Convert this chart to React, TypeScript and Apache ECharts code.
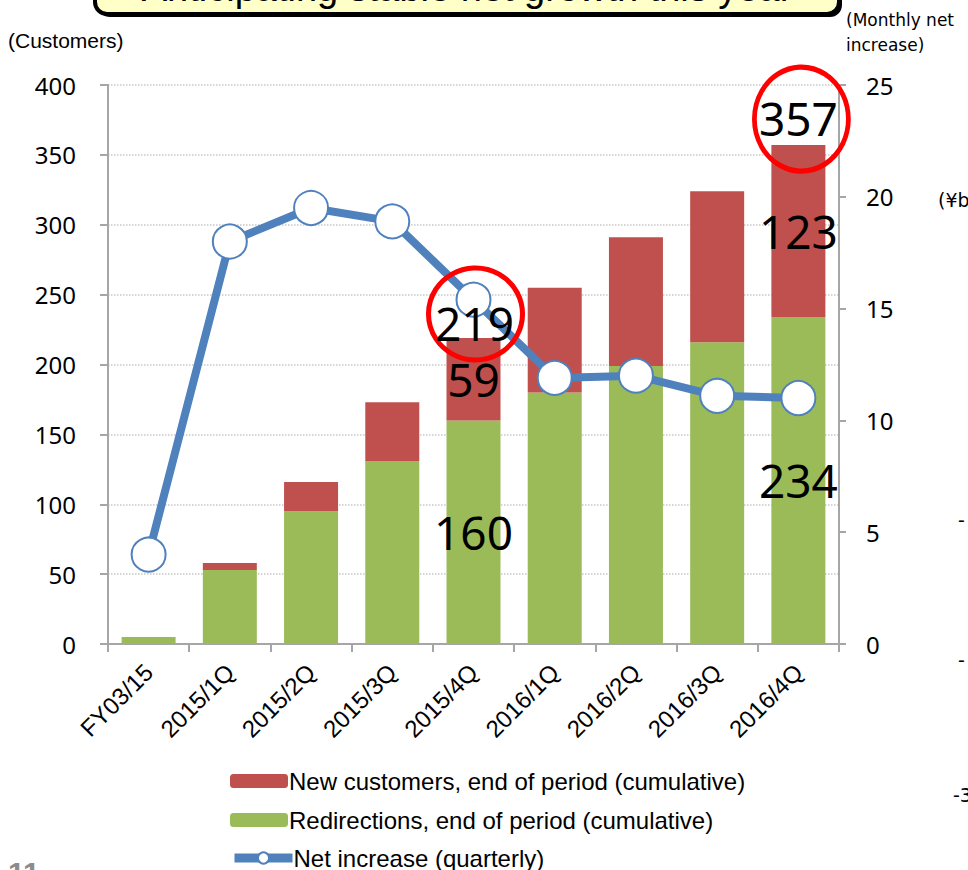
import React, { useEffect, useRef } from "react";
import * as echarts from "echarts";

const categories = ["FY03/15", "2015/1Q", "2015/2Q", "2015/3Q", "2015/4Q", "2016/1Q", "2016/2Q", "2016/3Q", "2016/4Q"];
const redirections = [5, 53, 95, 131, 160, 180, 199, 216, 234];
const newCustomers = [0, 5, 21, 42, 59, 75, 92, 108, 123];
const netIncrease = [4.0, 18.0, 19.5, 18.9, 15.4, 11.9, 12.0, 11.1, 11.0];
const legendNames = ["New customers, end of period (cumulative)", "Redirections, end of period (cumulative)", "Net increase (quarterly)"];
const labelledIdx = [4, 8];
const circledIdx = [4, 8];

const RED = "#C0504D";
const GREEN = "#9BBB59";
const BLUE = "#4F81BD";
const AX = "#A6A6A6";
const NUMFONT = "Noto Sans";
const ARIAL = "Liberation Sans";

export default function App() {
  const ref = useRef<HTMLDivElement>(null);
  useEffect(() => {
    if (!ref.current) return;
    const chart = echarts.init(ref.current, null, { renderer: "svg" });
    const totals = redirections.map((v, i) => v + newCustomers[i]);
    const bigLabel = { fontSize: 46, fontFamily: NUMFONT, color: "#000" };
    const circleCfg: any = {
      4: { size: [94, 92], off: [2, -24], lab: [-1, 9] },
      8: { size: [94, 104], off: [3, -26], lab: [-3, -1] },
    };
    const legendTops = [769, 808, 846];
    chart.setOption({
      animation: false,
      grid: { left: 108, right: 129, top: 85, bottom: 226 },
      legend: legendNames.map((n, i) => ({
        orient: "vertical",
        left: 230,
        top: legendTops[i],
        padding: 0,
        itemWidth: 58,
        itemHeight: 14,
        data: [n],
        textStyle: { fontSize: 24, fontFamily: ARIAL, color: "#000", padding: [0, 0, 0, -4] },
        ...(i === 2 ? { lineStyle: { width: 9, color: BLUE }, itemStyle: { color: "#fff", borderColor: BLUE, borderWidth: 2 } } : {}),
      })),
      xAxis: {
        type: "category",
        data: categories,
        axisLine: { lineStyle: { color: AX, width: 2 } },
        axisTick: { show: true, length: 8, lineStyle: { color: AX, width: 2 } },
        axisLabel: { rotate: 45, fontSize: 24, fontFamily: ARIAL, color: "#000", margin: 24, interval: 0 },
      },
      yAxis: [
        {
          type: "value",
          min: 0,
          max: 400,
          interval: 50,
          axisLine: { show: true, lineStyle: { color: AX, width: 2 } },
          axisTick: { show: true, length: 8, lineStyle: { color: AX, width: 2 } },
          axisLabel: { fontSize: 24, fontFamily: NUMFONT, color: "#000", margin: 32 },
          splitLine: { show: true, lineStyle: { color: "#C8C8C8", type: "dotted", width: 1.5 } },
        },
        {
          type: "value",
          min: 0,
          max: 25,
          interval: 5,
          position: "right",
          axisLine: { show: true, lineStyle: { color: AX, width: 2 } },
          axisTick: { show: true, length: 7, lineStyle: { color: AX, width: 2 } },
          axisLabel: { fontSize: 24, fontFamily: NUMFONT, color: "#000", margin: 27 },
          splitLine: { show: false },
        },
      ],
      series: [
        {
          name: legendNames[1],
          type: "bar",
          stack: "total",
          barWidth: 54,
          itemStyle: { color: GREEN },
          label: { show: false, position: "inside", ...bigLabel },
          data: redirections.map((v, i) => (labelledIdx.includes(i) ? { value: v, label: { show: true } } : v)),
        },
        {
          name: legendNames[0],
          type: "bar",
          stack: "total",
          barWidth: 54,
          itemStyle: { color: RED },
          label: { show: false, position: "inside", ...bigLabel },
          data: newCustomers.map((v, i) => (labelledIdx.includes(i) ? { value: v, label: { show: true } } : v)),
        },
        {
          name: legendNames[2],
          type: "line",
          yAxisIndex: 1,
          z: 3,
          data: netIncrease,
          symbol: "circle",
          symbolSize: 34,
          showAllSymbol: true,
          lineStyle: { color: BLUE, width: 8 },
          itemStyle: { color: "#FFFFFF", borderColor: BLUE, borderWidth: 2 },
        },
        {
          name: "annot",
          type: "line",
          yAxisIndex: 0,
          z: 10,
          silent: true,
          showSymbol: false,
          symbol: "none",
          lineStyle: { opacity: 0, width: 0 },
          data: totals,
          markPoint: {
            silent: true,
            z: 10,
            data: circledIdx.map((i) => ({
              coord: [categories[i], totals[i]],
              value: totals[i],
              symbol: "circle",
              symbolSize: circleCfg[i].size,
              symbolOffset: circleCfg[i].off,
              itemStyle: { color: "rgba(0,0,0,0)", borderColor: "#FF0000", borderWidth: 5 },
              label: { show: true, position: "inside", formatter: "{c}", offset: circleCfg[i].lab, ...bigLabel },
            })),
          },
        },
      ],
      graphic: [
        { type: "rect", shape: { x: 98, y: -40, width: 744, height: 57, r: 12 }, style: { fill: "#000" } },
        { type: "rect", shape: { x: 95, y: -43, width: 744, height: 57, r: 12 }, style: { fill: "#FFFFC8", stroke: "#000", lineWidth: 4 } },
        { type: "text", x: 467, y: -12, style: { text: "Anticipating stable net growth this year", font: "38px 'Liberation Sans'", fill: "#000", align: "center", verticalAlign: "middle" } },
        { type: "text", x: 8, y: 40, style: { text: "(Customers)", font: "21px 'Liberation Sans'", fill: "#000", verticalAlign: "middle" } },
        { type: "text", x: 846, y: 20, style: { text: "(Monthly net", font: "17px 'DejaVu Sans'", fill: "#000", verticalAlign: "middle" } },
        { type: "text", x: 846, y: 45, style: { text: "increase)", font: "17px 'DejaVu Sans'", fill: "#000", verticalAlign: "middle" } },
        { type: "text", x: 938, y: 200, style: { text: "(¥b", font: "19px 'DejaVu Sans'", fill: "#000", verticalAlign: "middle" } },
        { type: "text", x: 958, y: 520, style: { text: "-", font: "19px 'DejaVu Sans'", fill: "#000", verticalAlign: "middle" } },
        { type: "text", x: 958, y: 660, style: { text: "-", font: "19px 'DejaVu Sans'", fill: "#000", verticalAlign: "middle" } },
        { type: "text", x: 953, y: 795, style: { text: "-3", font: "19px 'DejaVu Sans'", fill: "#000", verticalAlign: "middle" } },
        { type: "text", x: 8, y: 857, style: { text: "11", font: "bold 30px 'Liberation Sans'", fill: "#8C8C8C", verticalAlign: "top" } },
      ],
    });
    return () => chart.dispose();
  }, []);
  return <div ref={ref} style={{ position: "absolute", left: 0, top: 0, width: 968, height: 870 }} />;
}
